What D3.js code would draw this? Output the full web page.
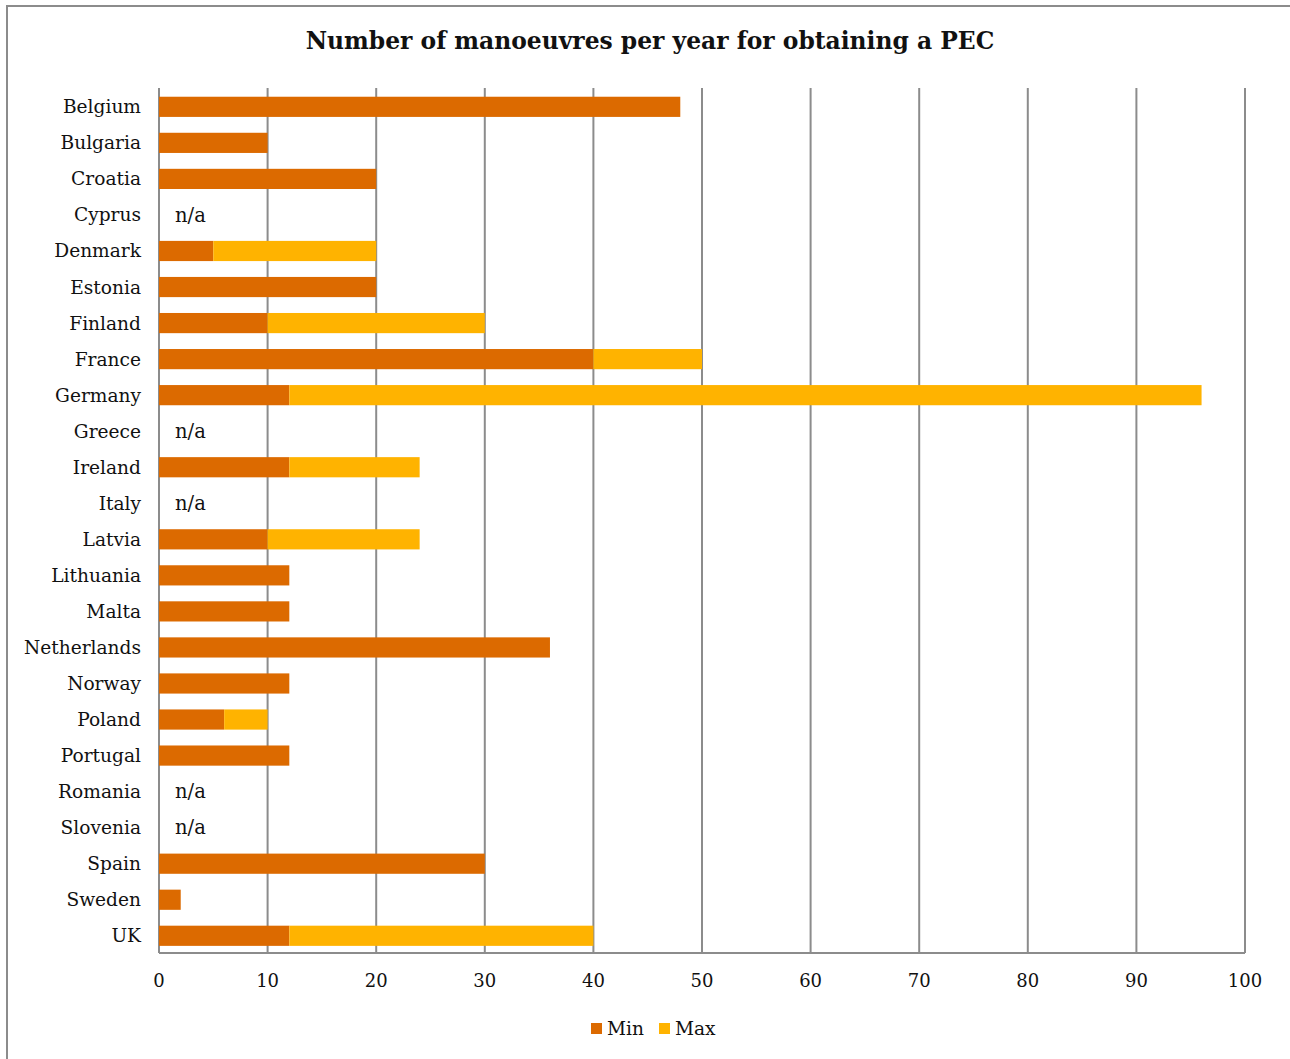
<!DOCTYPE html>
<html>
<head>
<meta charset="utf-8">
<script src="https://cdn.jsdelivr.net/npm/d3@7"></script>
<style>
  html, body { margin: 0; padding: 0; background: #fff; }
  svg { display: block; }
  text { font-family: "DejaVu Serif", "Liberation Serif", serif; fill: #111; }
</style>
</head>
<body>
<svg id="chart" width="1290" height="1059"></svg>
<script>
// Countries, top to bottom
const countries = ["Belgium","Bulgaria","Croatia","Cyprus","Denmark","Estonia","Finland","France","Germany","Greece","Ireland","Italy","Latvia","Lithuania","Malta","Netherlands","Norway","Poland","Portugal","Romania","Slovenia","Spain","Sweden","UK"];
// Minimum manoeuvres per year (null = not available)
const minValues = [48,10,20,null,5,20,10,40,12,null,12,null,10,12,12,36,12,6,12,null,null,30,2,12];
// Maximum manoeuvres per year (null where only one figure is given)
const maxValues = [null,null,null,null,20,null,30,50,96,null,24,null,24,null,null,null,null,10,null,null,null,null,null,40];
const xTicks = [0,10,20,30,40,50,60,70,80,90,100];
const seriesNames = ["Min","Max"];
const colors = { Min: "#DC6A00", Max: "#FFB300" };
const title = "Number of manoeuvres per year for obtaining a PEC";

const svg = d3.select("#chart");
const margin = { left: 159, right: 45, top: 88, bottom: 106 };
const W = 1290, H = 1059;

// Outer frame
svg.append("rect")
  .attr("x", 7).attr("y", 6).attr("width", W).attr("height", H)
  .attr("fill", "none").attr("stroke", "#8c8c8c").attr("stroke-width", 2);

const x = d3.scaleLinear().domain([0, 100]).range([margin.left, W - margin.right]);
const y = d3.scaleBand().domain(countries).range([margin.top + 0.8, H - margin.bottom + 0.8]).paddingInner(0.44).paddingOuter(0.22);

// Vertical gridlines
svg.append("g").selectAll("line").data(xTicks).join("line")
  .attr("x1", d => x(d)).attr("x2", d => x(d))
  .attr("y1", margin.top).attr("y2", H - margin.bottom)
  .attr("stroke", "#8c8c8c").attr("stroke-width", 2);

// Bars
const rows = countries.map((c, i) => ({ c, min: minValues[i], max: maxValues[i] }));
const g = svg.append("g");
g.selectAll("rect.min").data(rows.filter(r => r.min != null)).join("rect")
  .attr("class", "min")
  .attr("x", x(0)).attr("y", d => y(d.c))
  .attr("width", d => x(d.min) - x(0)).attr("height", y.bandwidth())
  .attr("fill", colors.Min);
g.selectAll("rect.max").data(rows.filter(r => r.max != null)).join("rect")
  .attr("class", "max")
  .attr("x", d => x(d.min)).attr("y", d => y(d.c))
  .attr("width", d => x(d.max) - x(d.min)).attr("height", y.bandwidth())
  .attr("fill", colors.Max);

// n/a markers
g.selectAll("text.na").data(rows.filter(r => r.min == null)).join("text")
  .attr("class", "na")
  .attr("x", x(0) + 16).attr("y", d => y(d.c) + y.bandwidth() / 2)
  .attr("dy", "0.35em").attr("font-size", 19.5)
  .text("n/a");

// Baseline
svg.append("line")
  .attr("x1", x(0)).attr("x2", x(100))
  .attr("y1", H - margin.bottom).attr("y2", H - margin.bottom)
  .attr("stroke", "#8c8c8c").attr("stroke-width", 2);

// Category labels
svg.append("g").selectAll("text").data(countries).join("text")
  .attr("x", 141).attr("y", d => y(d) + y.bandwidth() / 2)
  .attr("dy", "0.35em").attr("text-anchor", "end").attr("font-size", 18.6)
  .text(d => d);

// X tick labels
svg.append("g").selectAll("text").data(xTicks).join("text")
  .attr("x", d => x(d)).attr("y", 981)
  .attr("dy", "0.35em").attr("text-anchor", "middle").attr("font-size", 18)
  .text(d => d);

// Title
svg.append("text")
  .attr("x", 650).attr("y", 41).attr("dy", "0.35em")
  .attr("text-anchor", "middle").attr("font-size", 23.4).attr("font-weight", "bold")
  .text(title);

// Legend
const legend = svg.append("g");
const lx = [591, 659];
seriesNames.forEach((s, i) => {
  legend.append("rect").attr("x", lx[i]).attr("y", 1023).attr("width", 11).attr("height", 11).attr("fill", colors[s]);
  legend.append("text").attr("x", lx[i] + 16).attr("y", 1028).attr("dy", "0.35em").attr("font-size", 18.6).text(s);
});
</script>
</body>
</html>
